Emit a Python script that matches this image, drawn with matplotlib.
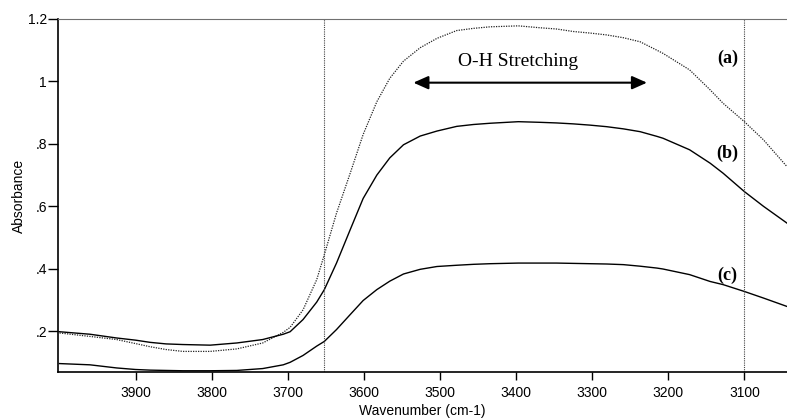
import matplotlib
matplotlib.use("Agg")
import matplotlib.pyplot as plt

# wavenumber (cm-1) and absorbance
wavenumber = [4000, 3960, 3925, 3900, 3881, 3860, 3838, 3802, 3767, 3733,
              3706, 3697, 3680, 3662, 3652, 3636, 3618, 3601, 3583, 3566,
              3548, 3526, 3504, 3478, 3456, 3434, 3397, 3369, 3347, 3325,
              3303, 3281, 3259, 3237, 3215, 3207, 3172, 3145, 3128, 3100,
              3075, 3044]
abs_a = [0.194, 0.183, 0.173, 0.160, 0.150, 0.141, 0.135, 0.135, 0.143, 0.162,
         0.196, 0.212, 0.268, 0.365, 0.445, 0.578, 0.706, 0.830, 0.935, 1.010,
         1.065, 1.108, 1.138, 1.163, 1.170, 1.175, 1.178, 1.172, 1.168, 1.160,
         1.155, 1.149, 1.140, 1.127, 1.100, 1.090, 1.037, 0.973, 0.930, 0.871,
         0.813, 0.727]
abs_b = [0.198, 0.190, 0.178, 0.171, 0.164, 0.159, 0.157, 0.155, 0.162, 0.173,
         0.190, 0.198, 0.237, 0.293, 0.333, 0.418, 0.525, 0.625, 0.700, 0.755,
         0.797, 0.825, 0.841, 0.856, 0.862, 0.866, 0.871, 0.869, 0.867, 0.864,
         0.860, 0.855, 0.848, 0.839, 0.824, 0.818, 0.781, 0.738, 0.706, 0.647,
         0.600, 0.546]
abs_c = [0.096, 0.092, 0.082, 0.077, 0.075, 0.074, 0.073, 0.073, 0.074, 0.080,
         0.092, 0.100, 0.122, 0.152, 0.167, 0.205, 0.253, 0.298, 0.333, 0.360,
         0.383, 0.398, 0.407, 0.411, 0.414, 0.416, 0.418, 0.418, 0.418, 0.417,
         0.416, 0.415, 0.413, 0.408, 0.402, 0.399, 0.381, 0.359, 0.349, 0.327,
         0.306, 0.279]

yticks = [0.2, 0.4, 0.6, 0.8, 1.0, 1.2]
ytick_labels = ['.2', '.4', '.6', '.8', '1', '1.2']
xticks = [3900, 3800, 3700, 3600, 3500, 3400, 3300, 3200, 3100]
markers_x = [3652, 3100]

plt.rcParams['font.family'] = ['Liberation Sans', 'DejaVu Sans']

fig = plt.figure(figsize=(7.87, 4.19), dpi=100)
ax = fig.add_axes([58 / 787, 47 / 419, 1 - 58 / 787, 353 / 419])

ax.plot(wavenumber, abs_a, color='#222222', lw=0.9, linestyle=(0, (1, 1)))
ax.plot(wavenumber, abs_b, color='black', lw=1.0)
ax.plot(wavenumber, abs_c, color='black', lw=1.0)

for xm in markers_x:
    ax.axvline(xm, color='#444444', lw=0.8, linestyle=(0, (1, 1)))

ax.set_xlim(4002, 3044)
ax.set_ylim(0.069, 1.2)
ax.set_xticks(xticks)
ax.set_yticks(yticks)
ax.set_yticklabels(ytick_labels)
ax.tick_params(axis='y', direction='out', length=7, width=1, pad=1, labelsize=10)
ax.tick_params(axis='x', direction='out', length=6, width=1, pad=4, labelsize=10)

ax.spines['right'].set_visible(False)
ax.spines['top'].set_color('#707070')
for s in ['left', 'bottom']:
    ax.spines[s].set_linewidth(1.2)

ax.set_xlabel('Wavenumber (cm-1)', fontsize=10, labelpad=3)
ax.set_ylabel('Absorbance', fontsize=10, labelpad=1)

# annotations
ax.annotate('', xy=(3228, 0.996), xytext=(3535, 0.996),
            arrowprops=dict(arrowstyle='<|-|>,head_length=0.9,head_width=0.4',
                            color='black', lw=1.5, mutation_scale=10,
                            shrinkA=0, shrinkB=0))
ax.text(3397, 1.063, 'O-H Stretching', family='Liberation Serif', fontsize=14,
        ha='center', va='center')
for lab, yv in [('(a)', 1.074), ('(b)', 0.768), ('(c)', 0.378)]:
    ax.text(3122, yv, lab, family='Liberation Serif', fontsize=13,
            fontweight='bold', ha='center', va='center')

fig.savefig('out.png', dpi=100)
